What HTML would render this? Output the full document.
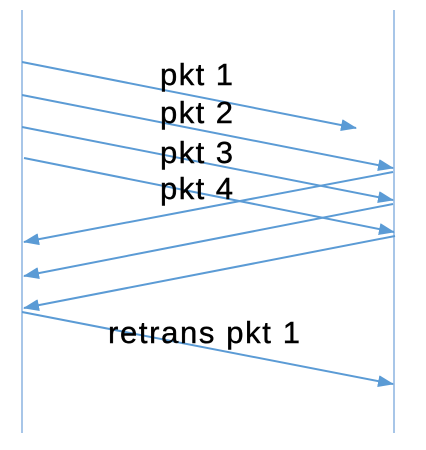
<!DOCTYPE html>
<html><head><meta charset="utf-8"><style>
html,body{margin:0;padding:0;background:#fff;}
svg{display:block;}
text{font-family:"Liberation Sans",sans-serif;fill:#000;}
</style></head><body>
<svg id="chart" width="426" height="450" viewBox="0 0 426 450">
<defs><marker id="ah" markerWidth="16" markerHeight="12" refX="15" refY="6" orient="auto" markerUnits="userSpaceOnUse"><path d="M0,0 L16,6 L0,12 Z" fill="#5b9bd5"/></marker></defs>
<line x1="22" y1="10" x2="22" y2="433" stroke="#6fa0d8" stroke-width="1.2"/>
<line x1="394" y1="10" x2="394" y2="433" stroke="#6fa0d8" stroke-width="1.2"/>
<g id="msgs"></g>
<g font-size="31" stroke="#000" stroke-width="0.4">
<text x="160" y="85" textLength="73">pkt 1</text>
<text x="160" y="123" textLength="73">pkt 2</text>
<text x="160" y="163" textLength="73">pkt 3</text>
<text x="160" y="199" textLength="73">pkt 4</text>
<text x="108" y="343" textLength="192">retrans pkt 1</text>
</g>
</svg>
<script>
const names=['pkt-1','pkt-2','pkt-3','pkt-4','ack-1','ack-2','ack-3','retrans-pkt-1'];
const x1s=[22,22,22,24,393,393,395,22];
const y1s=[62,95,127,158,172,204,236,312];
const x2s=[356,393,393,394,24,24,24,393];
const y2s=[128,168,200,232,242,276,308,384];
const g=document.getElementById('msgs');
for(let i=0;i<names.length;i++){
  const l=document.createElementNS('http://www.w3.org/2000/svg','line');
  
  
  l.setAttribute('x1',x1s[i]);l.setAttribute('y1',y1s[i]);
  l.setAttribute('x2',x2s[i]);l.setAttribute('y2',y2s[i]);
  l.setAttribute('stroke','#5b9bd5');l.setAttribute('stroke-width','2');
  l.setAttribute('marker-end','url(#ah)');
  g.appendChild(l);
}
</script>
</body></html>
